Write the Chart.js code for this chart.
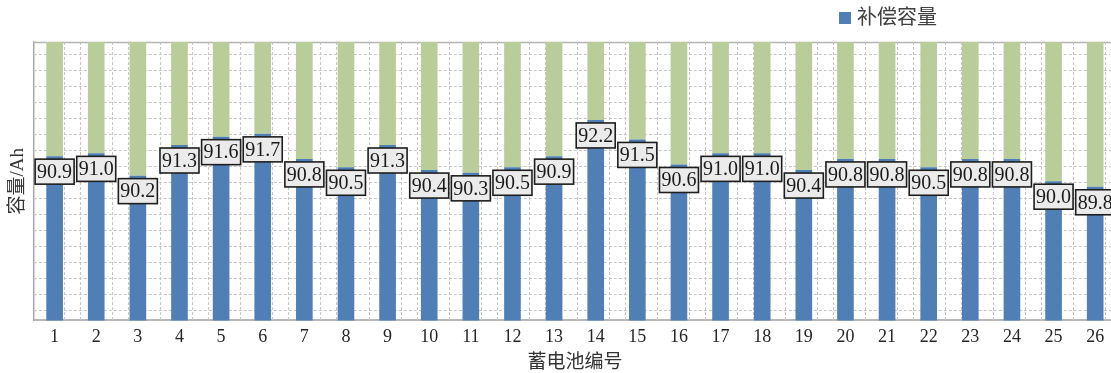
<!DOCTYPE html>
<html>
<head>
<meta charset="utf-8">
<script src="https://cdn.jsdelivr.net/npm/chart.js@4/dist/chart.umd.min.js"></script>
<style>
  html, body { margin: 0; padding: 0; background: #ffffff; overflow: hidden; }
  #wrap { position: relative; width: 1116px; height: 373px; }
</style>
</head>
<body>
<div id="wrap"><canvas id="c"></canvas></div>
<script>
// Battery numbers along the x axis
const categories = ['1','2','3','4','5','6','7','8','9','10','11','12','13',
                    '14','15','16','17','18','19','20','21','22','23','24','25','26'];
// Compensated capacity of each battery (Ah)
const compensatedCapacity = [90.9, 91.0, 90.2, 91.3, 91.6, 91.7, 90.8, 90.5, 91.3, 90.4,
                             90.3, 90.5, 90.9, 92.2, 91.5, 90.6, 91.0, 91.0, 90.4, 90.8,
                             90.8, 90.5, 90.8, 90.8, 90.0, 89.8];
// Value axis range
const axisMin = 85;
const axisMax = 95;

const seriesLabel = '补偿容量';
const blue = '#4f7fb4';
const green = '#b9cd9a';
const serif = "'Liberation Serif', 'Noto Sans CJK SC', serif";

// Remaining headroom above each bar, drawn as a floating bar up to the top of the axis
const headroom = compensatedCapacity.map(v => [v, axisMax]);

// Dotted background lattice plus the top frame line
const latticePlugin = {
  id: 'lattice',
  beforeDatasetsDraw(chart) {
    const { ctx, chartArea: a } = chart;
    const step = 16.02;
    ctx.save();
    ctx.beginPath();
    ctx.rect(a.left, a.top, a.right - a.left, a.bottom - a.top);
    ctx.clip();
    ctx.strokeStyle = '#c6c6c6';
    ctx.lineWidth = 1;
    ctx.setLineDash([3, 2]);
    ctx.beginPath();
    for (let x = a.left - 1.7 + step; x < a.right; x += step) {
      const px = Math.round(x) + 0.5;
      ctx.moveTo(px, a.top);
      ctx.lineTo(px, a.bottom);
    }
    for (let y = a.top + 12; y < a.bottom - 4; y += 16) {
      const py = Math.round(y) + 0.5;
      ctx.moveTo(a.left, py);
      ctx.lineTo(a.right, py);
    }
    ctx.stroke();
    ctx.restore();

    ctx.save();
    ctx.strokeStyle = '#b4b4b4';
    ctx.lineWidth = 1.5;
    ctx.beginPath();
    ctx.moveTo(a.left, a.top + 0.5);
    ctx.lineTo(a.right, a.top + 0.5);
    ctx.stroke();
    ctx.restore();
  }
};

// Boxed value labels at the top of each blue bar
const valueLabelPlugin = {
  id: 'valueLabels',
  afterDatasetsDraw(chart) {
    const { ctx } = chart;
    const meta = chart.getDatasetMeta(1);
    const data = chart.data.datasets[1].data;
    ctx.save();
    ctx.font = '20px ' + serif;
    ctx.textAlign = 'center';
    ctx.textBaseline = 'middle';
    meta.data.forEach((el, i) => {
      const text = data[i].toFixed(1);
      const w = ctx.measureText(text).width + 4;
      const h = 25;
      const x = el.x;
      const top = el.y + 3;
      ctx.fillStyle = '#ebebeb';
      ctx.fillRect(x - w / 2, top, w, h);
      ctx.strokeStyle = '#1e1e1e';
      ctx.lineWidth = 1.6;
      ctx.strokeRect(x - w / 2, top, w, h);
      ctx.fillStyle = '#1a1a1a';
      ctx.fillText(text, x, top + h / 2 + 1);
    });
    ctx.restore();
  }
};

// Legend entry for the capacity series
const legendPlugin = {
  id: 'capLegend',
  afterDraw(chart) {
    const { ctx } = chart;
    const ds = chart.data.datasets[1];
    ctx.save();
    ctx.fillStyle = ds.backgroundColor;
    ctx.fillRect(839, 12, 12, 12);
    ctx.font = "20px 'Liberation Serif', 'Noto Sans CJK SC', serif";
    ctx.fillStyle = '#404040';
    ctx.textAlign = 'left';
    ctx.textBaseline = 'middle';
    ctx.fillText(ds.label, 857, 19);
    ctx.restore();
  }
};

new Chart(document.getElementById('c'), {
  type: 'bar',
  data: {
    labels: categories,
    datasets: [
      {
        label: 'headroom',
        data: headroom,
        backgroundColor: green,
        grouped: false,
        barPercentage: 0.4,
        categoryPercentage: 1.0,
        order: 2
      },
      {
        label: seriesLabel,
        data: compensatedCapacity,
        backgroundColor: blue,
        grouped: false,
        barPercentage: 0.4,
        categoryPercentage: 1.0,
        order: 1
      }
    ]
  },
  options: {
    responsive: true,
    maintainAspectRatio: false,
    animation: false,
    layout: { padding: { top: 42, left: 3, right: 0, bottom: 0 } },
    plugins: {
      legend: { display: false },
      tooltip: { enabled: false }
    },
    scales: {
      x: {
        grid: { display: false, drawTicks: false },
        border: { display: true, color: '#b8b8b8', width: 2 },
        ticks: {
          color: '#262626',
          font: { family: serif, size: 18 },
          padding: 6,
          maxRotation: 0,
          autoSkip: false
        },
        title: {
          display: true,
          text: '蓄电池编号',
          color: '#333333',
          font: { family: serif, size: 19, lineHeight: 1.0 },
          padding: { top: 0, bottom: 0 }
        }
      },
      y: {
        min: axisMin,
        max: axisMax,
        grid: { display: false, drawTicks: false },
        border: { display: true, color: '#a8a8a8', width: 1.5 },
        ticks: { display: false },
        title: {
          display: true,
          text: '容量/Ah',
          color: '#333333',
          font: { family: serif, size: 19 },
          padding: { top: 4, bottom: 4 }
        }
      }
    }
  },
  plugins: [latticePlugin, valueLabelPlugin, legendPlugin]
});
</script>
</body>
</html>
